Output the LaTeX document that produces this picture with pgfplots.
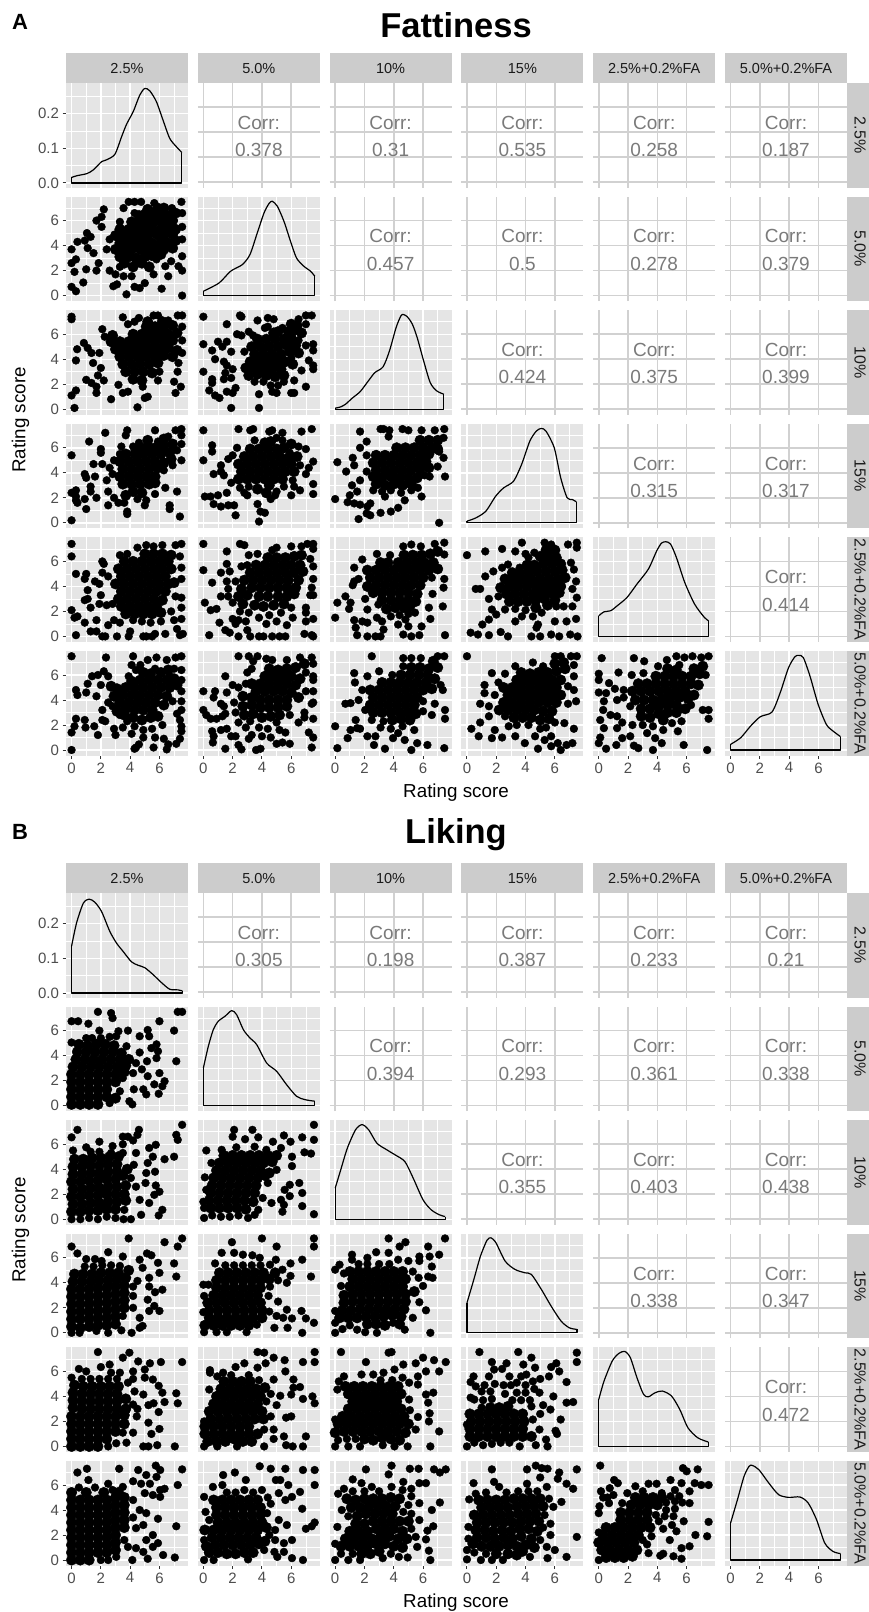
\documentclass[border=0pt]{standalone}
\usepackage{fontspec}
\setmainfont{Liberation Sans}
\usepackage{pgfplots}
\pgfplotsset{compat=1.18}
\definecolor{pg}{HTML}{E5E5E5}
\definecolor{sg}{HTML}{CCCCCC}
\definecolor{ug}{HTML}{D1D1D1}
\definecolor{tg}{HTML}{4D4D4D}
\definecolor{tk}{HTML}{333333}
\definecolor{cg}{HTML}{7A7A7A}
\definecolor{st}{HTML}{1A1A1A}
\newcommand{\fz}[1]{\fontsize{#1}{#1}\selectfont}
\pgfplotsset{
 panel/.style={width=122pt,height=104.5pt,scale only axis,xmin=-0.38,xmax=7.95,ymin=-0.44,ymax=7.92,
  xtick={0,2,4,6},ytick={0,2,4,6},axis line style={draw=none},tick pos=left,tick align=outside,
  major tick length=3.5pt,minor tick length=0pt,tick style={color=tk,line width=1pt},
  tick label style={font=\fz{15},text=tg},
  /pgf/number format/assume math mode=true,
  xticklabels={},yticklabels={},clip mode=individual},
 lower/.style={panel,minor xtick={1,3,5,7},minor ytick={1,3,5,7},grid=both,
  major grid style={white,line width=1.4pt},minor grid style={white,line width=0.7pt},
  axis background/.style={fill=pg}},
 upper/.style={panel,grid=major,major grid style={ug,line width=1.5pt},major tick length=0pt},
 col1/.style={yticklabels={0,2,4,6}},col2/.style={},col3/.style={},col4/.style={},col5/.style={},col6/.style={},
 row1/.style={},row2/.style={},row3/.style={},row4/.style={},row5/.style={},row6/.style={xticklabels={0,2,4,6}},
 dens/.style={black,line width=1.2pt,line join=round,no marks},
 pts/.style={only marks,mark=*,mark size=3.9pt,color=black,mark options={draw=none,fill=black}},
 ptc/.style={pts,mark size=5.3pt},
}
\newcommand{\tickst}[2]{\ifnum#2=1\relax\else\pgfplotsset{ytick style={draw=none}}\fi\ifnum#1=6\relax\else\pgfplotsset{xtick style={draw=none}}\fi}
\newcommand{\scat}[5]{\begingroup\tickst{#2}{#3}\pgfmathsetmacro\LL{66+131.8*(#3-1)}\pgfmathsetmacro\TT{#1+83+113.6*(#2-1)}%
 \begin{axis}[lower,col#3,row#2,at={(\LL pt,-\TT pt)},anchor=north west]
 \addplot[pts] coordinates {#4};
 \addplot[ptc] coordinates {#5};
 \end{axis}\endgroup}
\newcommand{\diag}[5]{\begingroup\tickst{#2}{#3}\pgfmathsetmacro\LL{66+131.8*(#3-1)}\pgfmathsetmacro\TT{#1+83+113.6*(#2-1)}%
 \begin{axis}[lower,col#3,row#2,at={(\LL pt,-\TT pt)},anchor=north west]
 \addplot[dens,smooth,tension=0.45] coordinates {#4};
 \addplot[dens] coordinates {#5};
 \end{axis}\endgroup}
\newcommand{\diagone}[3]{\begingroup\pgfplotsset{xtick style={draw=none}}\pgfmathsetmacro\TT{#1+83}%
 \begin{axis}[lower,at={(66pt,-\TT pt)},anchor=north west,ymin=-0.013,ymax=0.2886,ytick={0,0.1,0.2},minor ytick={0.05,0.15,0.25},yticklabels={0.0,0.1,0.2}]
 \addplot[dens,smooth,tension=0.45] coordinates {#2};
 \addplot[dens] coordinates {#3};
 \end{axis}\endgroup}
\newcommand{\corr}[4]{\begingroup\pgfplotsset{xtick style={draw=none},ytick style={draw=none}}\pgfmathsetmacro\LL{66+131.8*(#3-1)}\pgfmathsetmacro\TT{#1+83+113.6*(#2-1)}\pgfmathsetmacro\CC{\LL+61}\pgfmathsetmacro\BA{\TT+46.3}\pgfmathsetmacro\BB{\TT+73.7}%
 \begin{axis}[upper,at={(\LL pt,-\TT pt)},anchor=north west]\end{axis}
 \node[anchor=base,inner sep=0pt,font=\fz{19},text=cg] at (\CC pt,-\BA pt) {Corr:};
 \node[anchor=base,inner sep=0pt,font=\fz{19},text=cg] at (\CC pt,-\BB pt) {#4};\endgroup}
\newcommand{\strips}[1]{%
 \foreach \i/\t in {1/2.5\%,2/5.0\%,3/10\%,4/15\%,5/2.5\%+0.2\%FA,6/5.0\%+0.2\%FA}{%
  \pgfmathsetmacro\LL{66+131.8*(\i-1)}\pgfmathsetmacro\RR{\LL+122}\pgfmathsetmacro\CC{\LL+61}\pgfmathsetmacro\YA{#1+53}\pgfmathsetmacro\YB{#1+83}\pgfmathsetmacro\YC{#1+68.3}%
  \fill[sg] (\LL pt,-\YA pt) rectangle (\RR pt,-\YB pt);
  \node[font=\fz{14.5},text=st,inner sep=0pt] at (\CC pt,-\YC pt) {\t};
  \pgfmathsetmacro\TT{#1+83+113.6*(\i-1)}\pgfmathsetmacro\BB{\TT+104.5}\pgfmathsetmacro\MM{\TT+52.2}%
  \fill[sg] (847pt,-\TT pt) rectangle (869pt,-\BB pt);
  \node[font=\fz{16},text=st,inner sep=0pt,rotate=-90] at (860pt,-\MM pt) {\t};
 }}
\begin{document}
\begin{tikzpicture}[x=1pt,y=1pt]
\useasboundingbox (0,0) rectangle (869,-1612);
\node[font=\bfseries\fz{22},inner sep=0pt] at (20,-22) {A};
\node[font=\bfseries\fz{22},inner sep=0pt] at (20,-832) {B};
\node[font=\bfseries\fz{34.5},inner sep=0pt] at (456,-25) {Fattiness};
\node[font=\bfseries\fz{34.5},inner sep=0pt] at (456,-835) {Liking};
\node[font=\fz{18.8},inner sep=0pt] at (456,-793) {Rating score};
\node[font=\fz{18.8},inner sep=0pt] at (456,-1603) {Rating score};
\node[font=\fz{18.8},inner sep=0pt,rotate=90] at (20.5,-420) {Rating score};
\node[font=\fz{18.8},inner sep=0pt,rotate=90] at (20.5,-1230) {Rating score};
\strips{0}\strips{810}
\diagone{0}{(0,.016)(.36,.021)(1.04,.027)(1.49,.038)(2.06,.062)(2.40,.067)(2.96,.083)(3.42,.134)(3.76,.170)(4.21,.206)(4.66,.254)(5,.273)(5.34,.266)(5.79,.235)(6.24,.182)(6.7,.129)(7.15,.105)(7.53,.088)}{(0,.016)(0,0)(7.53,0)(7.53,.088)}
\diag{0}{2}{2}{(0,.35)(1.07,1.01)(1.86,1.95)(2.66,2.48)(3.18,3.28)(3.68,5.01)(4.14,6.61)(4.48,7.36)(4.7,7.55)(5.05,7.15)(5.5,5.95)(5.95,4.35)(6.36,3.01)(6.86,2.35)(7.32,1.95)(7.61,1.55)}{(0,.35)(0,0)(7.61,0)(7.61,1.55)}
\diag{0}{3}{3}{(0,.08)(.38,.19)(.71,.4)(1.16,.88)(1.71,1.41)(2.27,2.27)(2.71,2.93)(3.27,3.39)(3.71,4.67)(4.16,6.53)(4.49,7.47)(4.67,7.57)(4.93,7.39)(5.27,6.8)(5.6,5.73)(6.04,3.87)(6.49,2.13)(6.93,1.47)(7.42,1.2)}{(0,.08)(0,0)(7.42,0)(7.42,1.2)}
\diag{0}{4}{4}{(0,.13)(.62,.4)(1.29,.93)(1.96,2.13)(2.51,2.8)(3.18,3.33)(3.73,4.67)(4.29,6.53)(4.73,7.33)(5.07,7.55)(5.4,7.33)(5.96,6)(6.4,3.6)(6.84,2)(7.18,1.87)(7.47,1.68)}{(0,.13)(0,0)(7.47,0)(7.47,1.68)}
\diag{0}{5}{5}{(0,1.65)(.36,1.97)(.81,2.05)(1.26,2.45)(1.93,3.12)(2.61,4.19)(3.39,5.39)(3.96,6.85)(4.29,7.47)(4.58,7.57)(4.9,7.39)(5.3,6.32)(5.87,4.32)(6.54,2.59)(7.21,1.52)(7.5,1.25)}{(0,1.65)(0,0)(7.5,0)(7.5,1.25)}
\diag{0}{6}{6}{(0,.45)(.7,.99)(1.37,1.92)(2.04,2.67)(2.83,3.04)(3.39,4.59)(3.96,6.59)(4.4,7.47)(4.67,7.57)(4.97,7.39)(5.42,5.92)(5.98,3.65)(6.54,2.05)(6.99,1.52)(7.51,1.07)}{(0,.45)(0,0)(7.51,0)(7.51,1.07)}
\diagone{810}{(0,.135)(.34,.202)(.8,.259)(1.2,.271)(1.59,.262)(2.05,.235)(2.61,.178)(3.07,.144)(3.52,.12)(4.09,.09)(4.55,.08)(5,.073)(5.57,.053)(6.14,.03)(6.7,.011)(7.27,.009)(7.57,.006)}{(0,.135)(0,0)(7.57,0)(7.57,.006)}
\diag{810}{2}{2}{(0,3.01)(.34,4.75)(.68,6.08)(1.02,6.75)(1.48,7.15)(1.93,7.6)(2.27,7.28)(2.73,6.08)(3.18,5.41)(3.64,4.88)(4.32,3.41)(5,2.75)(5.68,1.68)(6.36,.75)(6.93,.48)(7.61,.35)}{(0,3.01)(0,0)(7.61,0)(7.61,.35)}
\diag{810}{3}{3}{(0,2.48)(.38,3.95)(.83,5.68)(1.39,7.15)(1.84,7.57)(2.29,7.15)(2.85,6.08)(3.53,5.55)(4.09,5.15)(4.76,4.61)(5.33,3.28)(6,1.55)(6.56,.75)(7.12,.35)(7.51,.21)}{(0,2.48)(0,0)(7.51,0)(7.51,.21)}
\diag{810}{4}{4}{(0,2.4)(.47,4.27)(.92,6.13)(1.37,7.41)(1.64,7.6)(1.98,7.2)(2.61,5.73)(3.28,5.07)(3.96,4.8)(4.4,4.67)(5.08,3.47)(5.75,2.13)(6.43,.93)(6.99,.4)(7.51,.27)}{(0,2.4)(0,0)(7.51,0)(7.51,.27)}
\diag{810}{5}{5}{(0,3.76)(.36,5.23)(.92,6.83)(1.37,7.44)(1.78,7.6)(2.16,7.09)(2.61,5.49)(3.06,4.16)(3.39,3.97)(3.84,4.29)(4.34,4.43)(4.97,4.03)(5.53,2.96)(6.09,1.49)(6.76,.69)(7.48,.35)}{(0,3.76)(0,0)(7.48,0)(7.48,.35)}
\diag{810}{6}{6}{(0,2.96)(.47,4.83)(.92,6.69)(1.26,7.49)(1.48,7.57)(1.93,7.23)(2.61,6.16)(3.28,5.23)(3.96,5.01)(4.74,5.04)(5.3,4.56)(5.87,3.23)(6.43,1.36)(6.99,.69)(7.51,.51)}{(0,2.96)(0,0)(7.51,0)(7.51,.51)}
\corr{0}{1}{2}{0.378}\corr{0}{1}{3}{0.31}\corr{0}{1}{4}{0.535}\corr{0}{1}{5}{0.258}\corr{0}{1}{6}{0.187}
\corr{0}{2}{3}{0.457}\corr{0}{2}{4}{0.5}\corr{0}{2}{5}{0.278}\corr{0}{2}{6}{0.379}
\corr{0}{3}{4}{0.424}\corr{0}{3}{5}{0.375}\corr{0}{3}{6}{0.399}
\corr{0}{4}{5}{0.315}\corr{0}{4}{6}{0.317}
\corr{0}{5}{6}{0.414}
\corr{810}{1}{2}{0.305}\corr{810}{1}{3}{0.198}\corr{810}{1}{4}{0.387}\corr{810}{1}{5}{0.233}\corr{810}{1}{6}{0.21}
\corr{810}{2}{3}{0.394}\corr{810}{2}{4}{0.293}\corr{810}{2}{5}{0.361}\corr{810}{2}{6}{0.338}
\corr{810}{3}{4}{0.355}\corr{810}{3}{5}{0.403}\corr{810}{3}{6}{0.438}
\corr{810}{4}{5}{0.338}\corr{810}{4}{6}{0.347}
\corr{810}{5}{6}{0.472}
% ---------- A: Fattiness
\scat{0}{2}{1}{(0,3.7)(.4,4.3)(0,2.6)(.3,2.9)(.2,1.9)(1,2.1)(.8,1.05)(0,.7)(.3,.35)(1.7,2)(1.85,2.6)(1.5,3.4)(1.1,3.8)(1.05,5)(.9,4.4)(1.3,4.7)(1.7,6)(2.2,6.9)(2.05,6.3)(2.05,5.5)(2.6,2)(2.85,.75)(3.1,.9)(3.75,.1)(4.3,.7)(4.65,.6)(5,1)(6.15,.55)(7.55,0)(7.55,2)(7.3,2.35)(6.8,2.75)(7.55,3.15)(7.55,4.5)(7.55,5.5)(7.55,6.6)(7.5,7.5)(3.55,7)(3.9,7.5)(4.3,7.5)(4.75,7.5)(5.65,7.4)(5.9,7.1)(6.85,7)(4.3,6.6)(3.3,5.9)(3.3,2.3)(3,1.7)(3.55,1.55)(4.1,1.55)(5.6,1.7)(6.6,1.55)(5.8,2.9)(6.4,2.35)(2.6,4.5)(2.4,3.7)}{(3.6,2.6)(4.2,2.3)(4.8,2.6)(5.3,2.3)(3.3,3.1)(3.9,3.1)(4.4,3)(5,3.1)(5.5,3.2)(6.1,3.3)(3,3.7)(3.6,3.7)(4.1,3.7)(4.7,3.7)(5.2,3.7)(5.8,3.8)(6.3,3.7)(6.9,3.8)(3.3,4.2)(3.9,4.2)(4.4,4.3)(5,4.2)(5.5,4.2)(6.1,4.3)(6.6,4.2)(7.1,4.4)(3,4.8)(3.6,4.8)(4.1,4.8)(4.7,4.8)(5.2,4.8)(5.8,4.9)(6.3,4.8)(6.9,4.9)(3.3,5.3)(3.9,5.3)(4.4,5.4)(5,5.3)(5.5,5.4)(6.1,5.3)(6.6,5.4)(7.1,5.3)(4.1,5.9)(4.7,5.9)(5.2,5.9)(5.8,6)(6.3,5.9)(6.9,6)(4.6,6.4)(5,6.5)(5.5,6.4)(6.1,6.5)(6.6,6.4)(7.1,6.6)(5.2,6.9)(5.8,6.8)(6.3,7)}
\scat{0}{3}{1}{(0,7.4)(0,7.2)(.38,4.8)(.3,3.9)(.84,5.3)(1.1,4.9)(1.36,4.5)(1.9,4.5)(2.1,6.4)(2.26,5.8)(1.47,3.7)(2,3.3)(1.8,2.7)(2.2,2.3)(1,2.35)(1.36,2.1)(1.7,1.8)(1.7,1.3)(.3,1.5)(0,1.1)(.2,.1)(2.7,.8)(3.2,1.95)(3.5,1.3)(3.85,1.4)(4.5,.15)(4.86,1.8)(5.2,1)(5,.9)(5.9,2.3)(6,3)(7.1,1.3)(7,2.2)(7.46,1.8)(7.24,3)(7.3,3.7)(3.5,7.35)(3.85,6.8)(4.6,7.3)(4.3,7)(5.6,7.5)(5.9,7.5)(6.6,7.1)(7.25,7.5)(7.55,7.5)(7.55,6.6)(7.55,5.5)(7.55,4.5)}{(4.2,2.4)(4.8,2.3)(3.7,3)(4.3,3)(4.9,3)(5.5,2.9)(3.5,3.6)(4.1,3.6)(4.7,3.6)(5.3,3.6)(5.9,3.7)(3.3,4.2)(3.9,4.2)(4.5,4.2)(5.1,4.2)(5.7,4.2)(6.3,4.3)(6.9,4.2)(3,4.8)(3.6,4.8)(4.2,4.8)(4.8,4.8)(5.4,4.8)(6,4.8)(6.6,4.9)(7.2,4.7)(2.7,5.4)(3.3,5.4)(3.9,5.4)(4.5,5.4)(5.1,5.4)(5.7,5.4)(6.3,5.4)(6.9,5.5)(2.8,5.9)(4.2,6)(4.8,6)(5.4,6)(6,6)(6.6,6)(7.2,6.1)(5.1,6.6)(5.7,6.6)(6.3,6.6)(6.9,6.7)(5.2,7)(6.2,7)}
\scat{0}{3}{2}{(0,7.4)(2.5,7.5)(2.6,7.4)(1.6,6.8)(3.7,7.1)(4.4,7.3)(4.8,7.2)(2.3,6)(2.6,5.9)(1,5.4)(1.6,5.4)(0,5.2)(.6,4.7)(1.3,5)(.8,4)(1.4,3.8)(1.9,4.6)(1.6,3.5)(2,3.2)(0,3)(.6,2.4)(.6,2.1)(1.4,2.4)(1.5,2.9)(1.9,2.5)(.4,1.5)(.8,1.1)(1.1,.9)(1.6,1.4)(2,1.3)(2.2,1.7)(1.9,.1)(3.8,.1)(3.8,1.2)(4.6,1.9)(4.7,1.4)(5,1.3)(5.5,2.2)(5.1,1.9)(6,1.3)(6.2,1.3)(6.2,2.3)(7,1.8)(6.7,3.1)(7.2,3.9)(7.5,3.5)(7.5,3.2)(7.5,5.2)(7.5,4.7)(7,5.1)(6,4.1)(6.5,5.5)(7,6.8)(7.4,7.5)(7,7.5)(6.5,7.2)(5.4,6.5)(4.2,6.5)(4.4,6.6)(3.1,6.2)(3.4,5.9)(2.8,4.6)(3.2,3.2)(4.1,2.2)(3.5,2.2)}{(3.1,2.7)(3.7,2.8)(4.3,2.7)(4.9,2.6)(5.5,2.7)(2.9,3.3)(3.6,3.3)(4.1,3.3)(4.7,3.2)(5.3,3.2)(3.2,3.8)(3.8,3.9)(4.4,3.8)(5,3.8)(5.6,3.8)(6.1,3.6)(3.5,4.4)(4.1,4.4)(4.7,4.4)(5.3,4.4)(5.9,4.6)(6.5,4.5)(3.3,5)(3.9,5)(4.5,5)(5.1,5)(5.7,5.1)(6.3,5.1)(3.7,5.6)(4.3,5.6)(4.9,5.6)(5.5,5.6)(6,5.7)(4.8,6.1)(5.1,6.2)(5.8,6.2)(6.2,6.3)(6.7,6.1)(6,6.8)(6.4,6.7)}
\scat{0}{4}{1}{(0,.2)(.3,2.1)(0,5.4)(1.2,6.5)(2.3,7.2)(3.8,7.4)(3.7,7)(2,5.9)(2,5.6)(1.5,4.7)(.9,3.9)(1,3.6)(1.6,3.7)(2.1,4.7)(2.6,4.4)(2.8,3.9)(2.4,3.4)(0,2.4)(.3,2.6)(.4,1.6)(.3,1.8)(.9,1.9)(1,1.1)(1.7,2)(1.3,2.5)(1.3,2.9)(2.5,1.4)(3.2,1.6)(3.8,.9)(3.8,.7)(5,1.4)(5.1,1.8)(5.7,2.3)(6.4,2.8)(6.7,1.4)(6.7,1.1)(7.4,.5)(7.2,2.5)(6.3,4.2)(6.9,4.6)(7.2,5.8)(7.5,5)(7.5,6.3)(7.5,7)(7.5,7.5)(7.1,7.4)(6.6,6.9)(5.7,7.4)(5.9,6.5)(4.6,6.4)(4.2,6.1)(3.4,6.1)(3.3,5.5)(2.9,5)(2.5,2.5)(2.9,2)(3.6,1.6)(4.5,1.9)}{(3.7,2.2)(4.2,2.5)(4.8,2.4)(3.5,3.1)(4.1,3.1)(4.7,3.1)(5.3,3.1)(5.7,3.2)(3.3,3.7)(3.9,3.7)(4.5,3.7)(5.1,3.7)(5.7,3.7)(3.5,4.3)(4.1,4.3)(4.7,4.3)(5.3,4.3)(5.9,4.4)(3.3,4.9)(3.9,4.9)(4.5,4.9)(5.1,4.9)(5.7,4.9)(6.3,4.8)(6.8,5.1)(3.7,5.5)(4.3,5.5)(4.9,5.5)(5.5,5.5)(6.1,5.5)(6.7,5.6)(4.7,6)(5.2,6.1)(5.7,6)(6.3,6.1)(6.9,6.3)(5.2,6.6)(6.3,6.7)}
\scat{0}{4}{2}{(0,7.4)(2.4,7.5)(3.2,7.4)(3.4,7.5)(4.5,7.3)(4.7,7.4)(5.4,7.2)(6.7,7.3)(7.4,7.5)(.6,6.2)(.6,5.7)(0,5)(1.2,4.6)(1.2,4.1)(.7,3.9)(1.4,3.8)(2,5.4)(1.7,5.1)(2.3,6)(3.5,6.6)(5,6.8)(5.4,6.6)(.1,2.1)(.5,2.1)(.7,1.5)(1,2.2)(1.2,1.3)(1.7,1.4)(2.1,1.4)(2.2,.6)(1.6,2.4)(1.9,3.2)(2.8,2.4)(3,2.2)(3.7,1.5)(3.9,.9)(4.2,.8)(3.8,.1)(4.6,1.9)(4.9,2.2)(6,2.2)(6.1,3.4)(6.2,2.9)(7.5,3.1)(7.5,2.3)(6.6,2.6)(7,3.9)(7.2,4.4)(6.6,4.6)(7.5,4.9)(7,5.9)(6.5,6.1)(5.9,5.6)(5.5,2.9)(5,2.5)(2.5,2.8)(3.1,2.9)}{(3.7,2.7)(4.3,2.4)(4.5,3)(2.4,3.5)(3,3.5)(3.6,3.5)(4.2,3.5)(4.8,3.5)(5.4,3.5)(2.6,4.1)(3.2,4.1)(3.8,4.1)(4.4,4.1)(5,4.1)(5.6,4.1)(6.2,4.1)(2.4,4.7)(3,4.7)(3.6,4.7)(4.2,4.7)(4.8,4.7)(5.4,4.7)(6,4.7)(2.8,5.3)(3.4,5.3)(4,5.3)(4.6,5.3)(5.2,5.3)(5.8,5.2)(6.4,5.3)(3.2,5.9)(3.8,5.9)(4.4,5.9)(5,5.9)(5.5,6)(4.2,6.4)(4.6,6.5)(6,6.3)}
\scat{0}{4}{3}{(0,1.9)(.15,4.85)(.75,4.1)(1.3,4.6)(1.2,5.2)(1.7,7.3)(3.1,7.5)(3.3,7.5)(3.7,7.4)(3.65,6.9)(4.6,7.5)(5,7.4)(5.9,7.4)(6.8,7.4)(7.45,7.5)(2.15,6.5)(1.7,6)(2.15,5.4)(2.15,4.1)(1.7,3.4)(1.15,3)(1.5,2.5)(1,2.2)(.85,1.65)(1.3,1.55)(1.7,1.45)(2.2,1.3)(2.4,.6)(1.6,.3)(2.15,.75)(3.1,.8)(3.8,.9)(4.3,1.2)(2.4,1.55)(3.4,2.1)(4.75,1.8)(5.9,2.1)(5.65,2.8)(6.45,3.7)(7,4.5)(7.5,3.7)(7.4,5.2)(7.1,0)(7.4,6.8)(7.1,5.7)(6.1,3.8)(5.2,2.6)(2.6,2.6)(3.2,2.5)(3.8,2.6)(4.5,2.4)}{(2.8,3.1)(3.4,3)(4,3.1)(4.6,3)(5.2,3.1)(2.6,3.7)(3.2,3.6)(3.8,3.7)(4.4,3.6)(5,3.6)(5.6,3.6)(2.8,4.2)(3.4,4.2)(4,4.2)(4.6,4.2)(5.2,4.2)(5.8,4.3)(6.4,4.4)(2.6,4.8)(3.2,4.8)(3.8,4.8)(4.4,4.8)(5,4.8)(5.6,4.8)(6.2,4.9)(2.8,5.4)(3.4,5.4)(4,5.4)(4.6,5.4)(5.2,5.4)(5.8,5.4)(6.4,5.5)(7,5.9)(4.2,6)(4.8,6)(5.4,6)(6,6)(6.6,6)(5.8,6.6)(6.4,6.6)(7,6.6)}
\scat{0}{5}{1}{(0,7.4)(0,6.4)(.3,5)(1,5)(.9,4.6)(1.6,4.4)(1.9,4.2)(.9,2.9)(1.1,3)(1.1,3.7)(1.3,2.3)(1.9,2.6)(2,3.3)(2.1,6)(2.2,5.8)(2.1,5.1)(2.5,4.8)(0,2.1)(.2,1.5)(.4,1.6)(.9,1.1)(1.7,1.3)(.3,.1)(1.3,.4)(1.7,.4)(2.1,0)(2.3,0)(3.1,0)(2.5,.9)(2.9,1.3)(3.3,1.1)(3.9,0)(4,.4)(4.9,0)(5.1,0)(5.5,0)(5.7,.2)(6.4,.2)(7.2,.6)(7.4,.1)(7.6,.2)(7.5,1.4)(7,1.3)(6.8,2)(7.5,2.3)(7.5,3.1)(7.1,3.2)(7.5,4.6)(7.5,5.5)(7.4,6.4)(7.5,7.4)(7.1,7.3)(6.2,7.3)(5.6,7.2)(5.1,7.3)(4.5,7.1)(3.3,6.5)(3.8,6.6)(2.4,2.5)(2.8,2.6)(4.2,1.3)(4.8,1.2)(5.4,1.1)(6.1,1.2)}{(3.7,1.8)(4.3,1.8)(4.9,1.8)(5.5,1.8)(6.1,1.9)(3.4,2.4)(4,2.4)(4.6,2.4)(5.2,2.4)(5.8,2.4)(3.2,3)(3.8,3)(4.4,3)(5,3)(5.6,3)(6.2,2.9)(3.4,3.6)(4,3.6)(4.6,3.6)(5.2,3.6)(5.8,3.6)(6.4,3.6)(3,4.2)(3.6,4.2)(4.2,4.2)(4.8,4.2)(5.4,4.2)(6,4.2)(6.6,4.2)(7,4.3)(3.4,4.8)(4,4.8)(4.6,4.8)(5.2,4.8)(5.8,4.8)(6.4,4.8)(3.2,5.4)(3.8,5.4)(4.4,5.4)(5,5.4)(5.6,5.4)(6.2,5.4)(6.8,5.4)(3.6,6)(4.2,6)(4.8,6)(5.4,6)(6,6)(6.6,6)(5,6.6)(5.6,6.6)(6.2,6.6)(6.8,6.5)}
\scat{0}{5}{2}{(0,7.4)(0,5.3)(.6,4.3)(.1,2.7)(.5,2.1)(.9,2.2)(1.1,1.1)(1.5,.5)(.4,.1)(1.8,.3)(2.4,0)(3.2,0)(3.8,0)(4.1,0)(4.7,0)(5.2,0)(5.6,0)(6.9,.2)(7.4,.1)(7.5,0)(7,1.2)(7,1.9)(7,2.3)(7.5,1.4)(7.5,3.3)(7.3,3.3)(7.4,3.9)(7.5,4.6)(7.5,5.6)(7.3,6.2)(7.5,7)(7.5,7.4)(7.1,7.4)(6.7,7.2)(6,7.2)(5,7.1)(4.7,6.9)(3.7,6.6)(3.1,6.5)(2.5,7.4)(2.8,7.3)(1.6,6.8)(1.6,5.8)(1.8,5.2)(1.2,5.1)(1.6,4.4)(2.2,4.4)(1.7,3.8)(3,5.7)(2.6,5.6)(1.2,3.2)(1.7,3.2)(2,2.7)(2,1.4)(2.2,1)(2.4,1.3)(2.9,1.2)(3,.5)(4.3,1)(5,1.2)(5.3,1.9)(6,2.3)(6.1,1.5)(5.7,.9)(2.5,2)(3.1,1.9)(3.8,1.5)(4.5,1.7)}{(2.7,2.6)(3.5,2.5)(4.1,2.4)(4.8,2.5)(5.5,2.6)(2.4,3.2)(3,3.3)(3.8,3.2)(4.4,3.2)(5.1,3.2)(5.7,3.2)(6.2,3.4)(2.6,3.8)(3.3,3.9)(3.9,3.9)(4.5,3.9)(5.1,3.9)(5.7,3.9)(6.3,3.9)(2.8,4.5)(3.4,4.5)(4,4.5)(4.6,4.5)(5.2,4.5)(5.8,4.5)(6.5,4.5)(3.2,5.1)(3.8,5.1)(4.4,5.1)(5,5.1)(5.6,5.1)(6.2,5.1)(6.8,5.2)(3.6,5.7)(4.2,5.7)(4.8,5.7)(5.4,5.7)(6,5.7)(6.6,5.7)(4.4,6.3)(5,6.3)(5.6,6.3)(6.2,6.4)(6.7,6.5)}
\scat{0}{5}{3}{(0,1.5)(.15,2.7)(.7,3.2)(.95,2.2)(1.05,2.7)(1.3,1.3)(1.4,.7)(1.5,.1)(1.85,1.2)(2.2,1.1)(2.2,0)(2.75,0)(3.1,0)(3.3,.55)(2.2,2.15)(2.85,1.5)(3.2,1.2)(1.3,4.4)(1.2,4.1)(1.3,5.5)(1.85,6.15)(2.85,6.6)(3.75,6.5)(4.65,7.2)(5.2,7.35)(5.85,7.2)(6.8,7.4)(7.45,7.5)(7.45,6.55)(7.45,4.6)(7.4,3.9)(6.65,3.4)(6.6,4.7)(7.35,2.4)(6.4,2.3)(6.5,1.4)(7.5,.1)(5.75,.1)(5.2,0)(4.65,.15)(5,.8)(5.9,.8)(5.45,1.9)(4.3,.95)(1.6,4.6)(2.05,3)(2.95,2.55)(4.8,1.35)(3.8,1.6)(4.4,1.7)(5,1.8)}{(3.5,2.2)(4.1,2.3)(4.7,2.3)(5.1,2.4)(3.2,2.9)(3.8,2.9)(4.4,2.9)(5,2.9)(5.5,2.8)(2.6,3.5)(3.2,3.5)(3.8,3.5)(4.4,3.5)(5,3.5)(5.6,3.4)(2.2,4)(2.8,4.1)(3.4,4.1)(4,4.1)(4.6,4.1)(5.2,4.1)(5.8,4.1)(2.4,4.7)(3,4.7)(3.6,4.7)(4.2,4.7)(4.8,4.7)(5.4,4.7)(6,4.7)(2.2,5.3)(2.8,5.3)(3.4,5.3)(4,5.3)(4.6,5.3)(5.2,5.3)(5.8,5.3)(6.4,5.3)(7,5.4)(3.1,5.9)(3.6,5.9)(4.3,5.9)(4.9,5.9)(5.5,5.9)(6.1,5.9)(6.7,5.9)(4.7,6.5)(5.3,6.5)(5.9,6.5)(6.5,6.6)(7,6.8)}
\scat{0}{5}{4}{(0,6.5)(1.25,6.8)(2.4,7)(3.3,6.8)(3.75,7.5)(4,6.6)(4.2,6.3)(5.3,7.5)(5.75,7.35)(6.9,7.35)(7.5,7.5)(7.5,7.1)(7.1,5.9)(7.3,5.35)(7.45,4.4)(7.2,3.8)(7.5,3.1)(7.2,2.4)(6.6,2.4)(7.45,1.4)(6.8,1.2)(6,1.2)(7.55,0)(7.05,.15)(6.3,0)(5.75,.15)(5,0)(4.4,0)(2.8,0)(2.3,.35)(1.5,.1)(.75,.15)(.25,.3)(1.05,.95)(1.5,1.35)(2,1.75)(1.7,2.15)(1.5,3)(.6,3.8)(.9,3.8)(1.25,4.8)(1.8,5.2)(2.4,5.5)(2.8,5.75)(3.6,5.5)(4.75,.7)(3.75,1.6)(3.3,1.2)(2.6,2.15)(4.85,.95)(5.1,1.9)(6.1,2.4)(2.15,3.2)(4.6,6.7)(3.3,2.2)(4,2.1)(4.5,1.6)}{(4.7,2.3)(5.5,2.5)(2.9,2.8)(3.5,2.8)(4.1,2.8)(4.7,2.9)(5.3,3)(6,2.9)(2.7,3.4)(3.3,3.4)(3.9,3.4)(4.5,3.4)(5.1,3.5)(5.7,3.5)(6.3,3.5)(2.3,3.9)(2.9,4)(3.5,4)(4.1,4)(4.7,4)(5.3,4)(5.9,4)(6.4,4)(2.6,4.6)(3.2,4.6)(3.8,4.6)(4.4,4.6)(5,4.6)(5.6,4.6)(6.2,4.6)(6.7,4.7)(3.1,5.1)(3.6,5.1)(4.2,5.2)(4.8,5.2)(5.4,5.2)(6,5.2)(6.5,5.3)(4.1,5.7)(4.6,5.7)(5.2,5.8)(5.8,5.8)(6.4,5.8)(5,6.4)(5.5,6.4)(6.1,6.3)(5.4,6.9)(6,6.9)}
\scat{0}{6}{1}{(0,0)(0,7.5)(2.35,7.4)(.3,2.5)(.2,1.9)(0,1.4)(.9,2.4)(.95,1.8)(1.55,1.9)(1.8,1.2)(2.1,2.4)(2.3,2.3)(.3,4.8)(.4,4.4)(1,4.6)(1.1,5.3)(1.4,5.9)(1.8,6)(2.2,6.3)(2.5,5.9)(1.7,4.3)(2,5.2)(2.5,3.8)(2.1,3.2)(2.8,3.5)(2.9,1.7)(3,1.2)(3.3,2.8)(3.8,2.3)(4.1,1.3)(4.3,.1)(4.4,.2)(4.6,.45)(4.9,1)(5.6,.2)(5.7,1)(6.5,.05)(6.3,.9)(6.6,.45)(7.15,.5)(7.4,.9)(7.5,1.5)(7.5,1.9)(7.4,2.4)(7.2,2.9)(7.5,3.2)(7.5,3.9)(6.9,3.9)(7.5,4.7)(7.5,5.6)(7.5,6.4)(7.5,7.5)(7.1,7.4)(6.5,7.2)(5.8,7.4)(5.2,7.2)(4.2,7.5)(4.1,6.8)(4.7,6.8)(5.7,6.5)(4.4,6.4)(3.9,5.9)(7,6.5)(6.7,5.9)(3.5,1.8)(4.3,1.9)(4.9,1.6)(5.5,1.7)(6.2,2)}{(3.6,2.8)(4.2,2.6)(4.8,2.4)(5.4,2.6)(5.9,2.7)(3.1,3.1)(3.7,3.3)(4.3,3.2)(4.9,3.2)(5.5,3.2)(3.3,3.8)(3.9,3.8)(4.5,3.8)(5.1,3.8)(5.7,3.8)(6.3,3.6)(2.9,4.3)(3.5,4.4)(4.1,4.4)(4.7,4.4)(5.3,4.4)(5.9,4.4)(6.5,4.3)(3.1,4.9)(3.7,5)(4.3,5)(4.9,5)(5.5,5)(6.1,5)(6.7,5)(7.2,5.2)(2.7,5.1)(4.1,5.5)(4.7,5.6)(5.3,5.6)(5.9,5.6)(6.5,5.6)(7,5.7)(4.9,6.2)(5.4,6.1)(6.1,6.2)(6.6,6.4)}
\scat{0}{6}{2}{(0,4.7)(.7,4.2)(.8,4.7)(0,3.2)(.2,2.8)(.5,2.5)(.9,2.5)(1.3,2.7)(.6,1.5)(.7,1.1)(.65,.6)(1.2,1.6)(1.6,1.7)(1.9,1.1)(2.2,1.1)(1.5,.1)(2.4,.4)(2.6,.05)(3.6,0)(3.9,.1)(3.1,.9)(3.3,1.2)(2.9,1.8)(1.4,3.5)(1.5,2.9)(1.6,4.6)(1.2,3.7)(1.5,5.9)(2,5.2)(2.4,5)(2.9,5.3)(2.4,7.5)(3.1,7.5)(3.7,7.5)(3.4,7.1)(3.3,6.5)(3,6.2)(4.3,7.3)(4.7,7.2)(5.7,7.2)(6.6,7.4)(7.4,7.4)(7.5,6.9)(7,6.2)(7.5,5.9)(7.5,5.6)(7,4.7)(7.5,4.7)(7.5,3.8)(7.4,3.7)(6.9,3)(6.9,2.6)(7.5,2.5)(6.5,2.2)(7.2,1.4)(7.5,1)(7.4,.2)(5,.5)(5.4,.6)(5.9,.5)(4.6,1)(5.2,1.6)(5.6,1.4)(5.9,2.8)(4,1.1)(2.4,2.2)(3.2,2.3)(3.8,1.8)(4.4,1.7)(5,2.2)(2.2,3)(2.1,3.8)}{(2.8,2.8)(3.4,2.9)(4,2.6)(4.6,2.7)(5.2,2.8)(2.7,3.5)(3.3,3.6)(3.9,3.4)(4.5,3.4)(5.1,3.4)(5.7,3.5)(2.7,4.3)(3.3,4.2)(3.9,4)(4.5,4)(5.1,4)(5.7,4)(3.6,4.7)(4.2,4.7)(4.8,4.7)(5.4,4.7)(6,4.6)(6.5,4.2)(3.3,5.3)(3.9,5.3)(4.5,5.3)(5.1,5.3)(5.7,5.3)(6.3,5.2)(4.2,5.9)(4.8,5.9)(5.4,5.9)(6,5.9)(6.6,5.7)(4.5,6.5)(5.1,6.4)(5.7,6.5)(6.3,6.6)(6.9,6.9)}
\scat{0}{6}{3}{(.15,.15)(0,1.9)(.85,.95)(1.05,1.6)(1.5,1.75)(1.7,1.7)(.7,3.7)(1.05,3.75)(1.6,4)(1.4,2.4)(2.05,3.2)(1.35,5.4)(1.3,6.15)(2.5,7.5)(2.2,5.9)(1.85,4.8)(2.2,1.1)(2.65,.4)(3.4,.1)(3.95,.95)(5.2,0)(5.6,.55)(6.3,.4)(7.45,.15)(7.5,2.5)(7.5,3.2)(6.6,2.8)(6.8,3.7)(6,3.1)(6,3.9)(7.35,4.8)(7.2,5.2)(7.45,7.5)(7,7.5)(5.85,7.35)(5.2,7.35)(4.65,7.35)(4.65,6.7)(3,6.3)(3.9,6)(5.4,1.6)(4.75,.8)(2.75,1.1)(3.3,2.3)(4.3,1.35)(3.8,1.7)(4.6,1.9)(2.5,2.4)(3.1,1.8)}{(3.9,2.4)(4.5,2.5)(5.1,2.4)(2.6,3)(3.2,3)(3.8,3)(4.4,3)(5,3)(5.5,2.9)(2.4,3.6)(3,3.6)(3.6,3.6)(4.2,3.6)(4.8,3.6)(5.4,3.6)(2.6,4.2)(3.2,4.2)(3.8,4.2)(4.4,4.2)(5,4.2)(5.6,4.2)(2.4,4.8)(3,4.8)(3.6,4.8)(4.2,4.8)(4.8,4.8)(5.4,4.8)(6,4.8)(6.6,4.9)(3.2,5.4)(3.8,5.4)(4.4,5.4)(5,5.4)(5.6,5.4)(6.2,5.4)(6.8,5.7)(4.5,6)(5.1,6)(5.7,6)(6.3,6)(5.2,6.6)(5.8,6.6)(6.4,6.5)(7,6.6)(6.7,7.1)}
\scat{0}{6}{4}{(0,7.5)(.8,1.1)(.3,1.7)(.9,2.2)(.9,3.7)(1.2,4.55)(1.2,5.2)(1.7,6.15)(2.6,6.1)(3.3,6.7)(4.5,7)(5.2,6.7)(6,7.5)(6.4,7.5)(7.1,7.5)(7.5,7.5)(7.3,6.8)(7.3,5.9)(7.3,4.8)(7.45,3.9)(6.9,3.7)(7.3,1.7)(7.2,.55)(6.8,.4)(6.2,.55)(6.4,0)(5.75,.3)(4.85,.1)(5.3,.8)(1.7,.95)(1.9,1.6)(2.4,1)(1.5,2.7)(1.5,3.5)(1.9,4.4)(4.65,1.1)(4.2,2)(2.85,1.9)(3.3,1.1)(5.75,1.1)(6.65,2.15)(3.95,.55)(2.15,5.4)(6.9,5.1)(2.6,2.7)(3.4,2)(5,1.7)(5.4,1.8)(6,2.2)}{(3.2,2.6)(3.8,2.6)(4.4,2.6)(5,2.4)(5.6,2.5)(2.2,3.2)(2.8,3.2)(3.4,3.2)(4,3.2)(4.6,3.2)(5.2,3.1)(5.8,3.1)(2.5,3.8)(3.1,3.8)(3.7,3.8)(4.3,3.8)(4.9,3.8)(5.5,3.8)(6.1,3.8)(2.8,4.4)(3.4,4.4)(4,4.4)(4.6,4.4)(5.2,4.4)(5.8,4.4)(6.4,4.4)(2.5,5)(3.1,5)(3.7,5)(4.3,5)(4.9,5)(5.5,5)(6.1,5)(3.4,5.6)(4,5.6)(4.6,5.6)(5.2,5.6)(5.8,5.6)(6.4,5.6)(3.7,6.2)(4.3,6.1)(4.9,6.2)(5.5,6.2)(6.1,6.3)(6.7,6.5)(6,6.9)(6.6,7)}
\scat{0}{6}{5}{(.2,7.35)(2.4,7.35)(3.1,7.1)(0,6.1)(0,5.6)(1.35,6.2)(2.25,6)(3.05,6.15)(.7,5.35)(0,4.6)(.5,4.55)(.35,3.9)(.3,3.2)(.8,2.8)(.1,2.4)(.35,1.75)(.1,1)(0,.55)(.5,.1)(1.2,.4)(2.4,.35)(2.7,.15)(3.7,0)(4.3,.55)(5.8,.4)(7.4,0)(5.4,1.5)(5.65,2.3)(7.1,3.2)(7.5,3.2)(7.5,2.5)(7.3,6)(7.5,7.5)(7,7.4)(6.4,7.5)(5.85,7.4)(5.3,7.5)(4.65,7.2)(4.05,6.7)(5.5,6.8)(1.25,1.75)(1.6,.95)(2.15,1.1)(1.25,2.7)(2.15,3.5)(1.25,4)(1.7,4.8)(3.85,.95)(4.4,1.6)(5,2.15)(3.3,1.35)(6.3,3.6)(1.6,2.2)(2.3,2)(3,2)(3.7,1.9)(1.7,4.2)(1.1,4.9)}{(4.4,2.4)(2.9,2.7)(3.5,2.6)(4.1,2.9)(4.7,3)(5.3,3)(2.9,3.3)(3.5,3.3)(4.1,3.5)(4.7,3.6)(5.3,3.6)(5.9,3.3)(2.5,4)(3.1,4)(3.7,4)(4.3,4.1)(4.9,4.2)(5.5,4.2)(6.1,4.1)(2.3,4.7)(2.9,4.7)(3.5,4.7)(4.1,4.7)(4.7,4.7)(5.3,4.7)(5.9,4.7)(6.5,4.4)(2.7,5.3)(3.3,5.3)(3.9,5.3)(4.5,5.3)(5.1,5.3)(5.7,5.3)(6.3,5.3)(6.8,5.2)(3.9,5.9)(4.5,5.9)(5.1,5.9)(5.7,5.9)(6.3,5.9)(6.9,6.1)(4.7,6.5)(5.3,6.4)(6.5,6.5)(7.1,6.7)}
% ---------- B: Liking
\scat{810}{2}{1}{(1.8,7.5)(2.7,7.4)(2.8,7)(0,6.75)(.45,6.75)(1.15,6.55)(7.25,7.5)(7.55,7.5)(6,6.75)(7,6)(7.15,3.55)(1.9,6)(3.2,5.95)(3.85,6)(4.65,5.55)(5.2,6.05)(5.3,5.55)(5.8,4.9)(5.45,4.6)(4.65,4.25)(5.9,4.35)(5.8,3.8)(5.15,3.55)(0,5.05)(1,5.4)(6.35,1.95)(6.2,1.55)(5.65,1.7)(5.95,.95)(5.1,.9)(4.9,1.3)(4.25,1.3)(3.95,.35)(4.15,.1)(6,2.6)(5.2,2.35)(3.5,2.2)(3.3,1.15)(2.6,.2)(4.4,3.4)(3.05,5.55)(3.75,4.75)(4.2,2.6)(4.8,2.9)(1.4,5.4)(2,5.4)(2.6,5.5)}{(0,.1)(.6,.1)(1.2,.1)(1.8,.1)(0,.7)(.6,.7)(1.2,.7)(1.8,.7)(2.4,.7)(3,.6)(0,1.3)(.6,1.3)(1.2,1.3)(1.8,1.3)(2.4,1.3)(0,1.9)(.6,1.9)(1.2,1.9)(1.8,1.9)(2.4,1.9)(3,1.9)(0,2.5)(.6,2.5)(1.2,2.5)(1.8,2.5)(2.4,2.5)(3,2.5)(3.6,2.7)(.1,3.1)(.7,3.1)(1.3,3.1)(1.9,3.1)(2.5,3.1)(3.1,3.1)(3.7,3.2)(.3,3.7)(.9,3.7)(1.5,3.7)(2.1,3.7)(2.7,3.7)(3.3,3.7)(3.9,3.7)(.4,4.3)(1,4.3)(1.6,4.3)(2.2,4.3)(2.8,4.3)(3.4,4.2)(.5,4.9)(1.1,4.8)(1.7,4.9)(2.3,4.9)(2.9,4.8)}
\scat{810}{3}{1}{(7.55,7.55)(7.15,6.75)(7.25,6.35)(7,5)(6.35,4.8)(4.6,7.15)(4.5,6.75)(3.5,6.6)(3.5,6)(3.85,6.6)(4.2,6.3)(.4,7.15)(0,6.55)(1.9,6.2)(.1,5.5)(1,5.75)(2.8,5.85)(5.75,5.95)(5.3,5.7)(5.55,5)(5.2,4.5)(5.7,3.8)(5.1,3.7)(4.25,4.35)(5.05,2.9)(5.75,2.7)(6,2.2)(5.65,1.95)(5.3,1.3)(4.75,.35)(6.2,.75)(5.95,.3)(3.6,.75)(3.55,0)(4.05,0)(4.4,2.6)(4.65,1.55)(3.5,5.3)(4.4,5.3)(4.05,3.3)(0,0)(.6,0)(1.2,.1)(1.8,0)(2.4,.2)(3,.1)(1.3,5.4)(1.9,5.4)(2.7,5.3)}{(0,.6)(.6,.6)(1.2,.7)(1.8,.7)(2.4,.8)(3,.8)(.1,1.2)(.7,1.2)(1.3,1.3)(1.9,1.3)(2.5,1.4)(3.1,1.4)(3.7,1.5)(0,1.8)(.6,1.8)(1.2,1.9)(1.8,1.9)(2.4,2)(3,2)(3.6,2)(.1,2.4)(.7,2.4)(1.3,2.5)(1.9,2.5)(2.5,2.6)(3.1,2.6)(3.7,2.7)(0,3)(.6,3)(1.2,3.1)(1.8,3.1)(2.4,3.2)(3,3.2)(3.5,3.5)(.1,3.6)(.7,3.6)(1.3,3.7)(1.9,3.7)(2.5,3.8)(3.1,3.8)(3.8,4)(.1,4.2)(.7,4.2)(1.3,4.3)(1.9,4.3)(2.5,4.4)(3.1,4.4)(.2,4.8)(.8,4.8)(1.4,4.9)(2,4.9)(2.6,5)(3.2,5)}
\scat{810}{3}{2}{(7.55,7.55)(7.55,6.35)(6.75,6.55)(6.9,5.35)(7.35,5.25)(5.5,6.7)(5.95,6.2)(4.75,6.2)(5.3,5.7)(6.05,5)(6.05,4.25)(3.35,7.15)(3.75,6.55)(2.85,6.4)(2.1,7.15)(2,6.6)(.2,5.5)(1.25,5.55)(2.25,5.75)(3.5,5.8)(4.3,5.55)(.1,3.35)(.2,2.35)(0,1.4)(.05,.9)(.05,.1)(6.55,2.9)(6.75,2.1)(6.75,1.05)(7.55,.4)(5.9,2.75)(5.55,2.35)(5.9,1.85)(5.3,1.55)(5.5,1.15)(5.4,.6)(4.65,1.3)(3.75,.75)(3.05,.1)(3.5,.35)(4.05,1.7)(5,3.95)(4.4,2.9)(.55,4.5)(.6,.3)(1.2,.2)(1.8,.2)(2.4,.3)}{(.5,.9)(1.1,.9)(1.7,.9)(2.3,.9)(2.9,.8)(.4,1.5)(1,1.5)(1.6,1.5)(2.2,1.5)(2.8,1.5)(3.4,1.4)(.5,2.1)(1.1,2.1)(1.7,2.1)(2.3,2.1)(2.9,2.1)(3.5,2.1)(.6,2.7)(1.2,2.7)(1.8,2.7)(2.4,2.7)(3,2.7)(3.6,2.7)(.7,3.3)(1.3,3.3)(1.9,3.3)(2.5,3.3)(3.1,3.3)(3.7,3.3)(4.2,3.5)(.9,3.9)(1.5,3.9)(2.1,3.9)(2.7,3.9)(3.3,3.9)(3.9,3.9)(4.5,3.7)(1.1,4.5)(1.7,4.5)(2.3,4.5)(2.9,4.5)(3.5,4.5)(4.1,4.5)(4.7,4.6)(1.4,5.1)(2,5.1)(2.6,5.1)(3.2,5.1)(3.8,5.1)(4.4,5.1)(5,5.1)}
\scat{810}{4}{1}{(3.9,7.55)(7.55,7.55)(6.35,7.25)(7.25,6.9)(0,6.9)(.4,6.35)(2.5,6.45)(3.5,6.1)(7,5.55)(7.15,4.5)(4.65,5.85)(5.15,6.35)(5.45,6.2)(5.9,5.6)(4.85,5.2)(6,4.8)(5.3,4.4)(5.3,3.7)(6.2,3.45)(5.7,3.25)(4.5,4.15)(1,5.9)(2.05,5.75)(5.2,2.65)(5.65,2.15)(6,1.75)(5.3,1.75)(4.65,1.2)(4.85,.55)(4.65,.4)(4.1,0)(2.5,0)(0,0)(1.7,.15)(.55,0)(3.5,1.35)(4.2,2.95)(3.3,5.35)(3.4,.2)(4.2,2)(.9,5.3)(1.5,5.3)(2.1,5.4)(2.7,5.4)(1.6,5.9)(4.2,3.7)}{(0,.5)(.6,.4)(1.2,.5)(1.8,.6)(2.4,.6)(3,.7)(0,1.1)(.6,1.1)(1.2,1.1)(1.8,1.2)(2.4,1.2)(3,1.3)(0,1.7)(.6,1.7)(1.2,1.7)(1.8,1.8)(2.4,1.8)(3,1.9)(3.6,2)(0,2.3)(.6,2.3)(1.2,2.3)(1.8,2.4)(2.4,2.4)(3,2.5)(3.6,2.6)(0,2.9)(.6,2.9)(1.2,2.9)(1.8,3)(2.4,3)(3,3.1)(3.6,3.2)(0,3.5)(.6,3.5)(1.2,3.5)(1.8,3.6)(2.4,3.6)(3,3.7)(3.6,3.8)(.1,4.1)(.7,4.1)(1.3,4.1)(1.9,4.2)(2.5,4.2)(3.1,4.3)(3.7,4.4)(.2,4.7)(.8,4.7)(1.4,4.7)(2,4.8)(2.6,4.8)(3.2,4.8)(3.9,5)}
\scat{810}{4}{2}{(4,7.55)(1.95,7.25)(5,6.9)(7.55,7.55)(7.55,6.9)(6.75,5.85)(7.35,4.5)(1.25,6.4)(2.1,6.4)(2.7,6.25)(3.35,6.2)(3.85,6)(4.95,5.85)(5.95,5.55)(5.4,5.05)(5.95,4.55)(4.55,5.45)(.8,5.55)(0,3.85)(.35,3.85)(.05,2.95)(0,1.65)(.05,.05)(.9,.05)(1.6,.05)(2.95,.05)(3.65,.65)(4.85,.4)(5.75,.4)(6.75,0)(7.55,.8)(7,1.15)(6.7,1.75)(6.05,1.15)(5.45,1.2)(5.7,1.85)(5,1.35)(5.1,2.5)(5.7,4)(4.45,2.95)(4.55,3.7)(4.5,1.7)(5.1,4.2)(1.5,5.4)(2.1,5.4)(2.7,5.4)(3.3,5.4)(3.9,5.4)}{(.1,.6)(.7,.6)(1.3,.6)(1.9,.6)(2.5,.6)(3.1,.6)(.4,1.2)(1,1.2)(1.6,1.2)(2.2,1.2)(2.8,1.2)(3.4,1.2)(4,1.2)(.4,1.8)(1,1.8)(1.6,1.8)(2.2,1.8)(2.8,1.8)(3.4,1.8)(4,1.8)(.3,2.4)(.9,2.4)(1.5,2.4)(2.1,2.4)(2.7,2.4)(3.3,2.4)(3.9,2.4)(.7,3)(1.3,3)(1.9,3)(2.5,3)(3.1,3)(3.7,3)(.9,3.6)(1.5,3.6)(2.1,3.6)(2.7,3.6)(3.3,3.6)(3.9,3.6)(.9,4.2)(1.5,4.2)(2.1,4.2)(2.7,4.2)(3.3,4.2)(3.9,4.2)(4.5,4.3)(1.1,4.8)(1.7,4.8)(2.3,4.8)(2.9,4.8)(3.5,4.8)(4.1,4.8)(4.9,4.8)}
\scat{810}{4}{3}{(3.65,7.55)(4.8,7.25)(4.4,6.9)(7.5,7.55)(6.35,6.9)(7.1,6.25)(6.45,6.1)(6.6,5.3)(2.8,6.45)(3.65,6.4)(4.3,5.85)(5,5.75)(5.75,6.1)(5.75,5.75)(6.65,4.4)(6.35,4.5)(6,3.75)(6.2,1.8)(6.5,0)(5.75,2.45)(5.3,1.2)(4.75,.25)(2.85,0)(2.05,.05)(1.5,.25)(0,0)(0,1.75)(0,.8)(.3,5.45)(0,5.05)(1.15,6.25)(1.15,5.85)(.6,4.75)(.4,3.75)(2.2,6)(5.3,4.9)(3.95,.8)(.5,.3)(1,.6)(5.7,4.4)(1.6,5.5)(2.2,5.5)(3,5.5)(3.7,5.5)}{(2.2,.7)(2.8,.7)(3.4,.6)(4.4,.7)(.3,1.2)(.9,1.2)(1.5,1.2)(2.1,1.3)(2.7,1.3)(3.3,1.3)(3.9,1.4)(4.5,1.3)(.5,1.8)(1.1,1.8)(1.7,1.9)(2.3,1.9)(2.9,1.9)(3.5,1.9)(4.1,1.9)(4.7,1.9)(.6,2.4)(1.2,2.5)(1.8,2.5)(2.4,2.5)(3,2.5)(3.6,2.5)(4.2,2.5)(4.8,2.5)(.6,3)(1.2,3.1)(1.8,3.1)(2.4,3.1)(3,3.1)(3.6,3.1)(4.2,3.1)(4.8,3.1)(5.4,3.3)(1,3.7)(1.6,3.7)(2.2,3.7)(2.8,3.7)(3.4,3.7)(4,3.7)(4.6,3.7)(1.2,4.3)(1.8,4.3)(2.4,4.3)(3,4.3)(3.6,4.3)(4.2,4.3)(4.8,4.3)(1,4.9)(1.6,4.9)(2.2,4.9)(2.8,4.9)(3.4,4.9)(4,4.9)(4.6,4.9)}
\scat{810}{5}{1}{(1.8,7.55)(3.5,7.1)(3.95,7.5)(2,6.35)(2.6,6.55)(.5,6.2)(1,6)(0,5.5)(4.55,6.8)(5.35,6.65)(6.1,6.75)(7.55,6.75)(4.2,6)(5,6.15)(5,5.5)(5.55,5.35)(5.95,4.85)(6.2,4.3)(7.15,4.25)(7.25,3.45)(6.35,3.55)(5.6,3.45)(5.25,3.3)(5.95,2.75)(5.25,1.9)(6,1.4)(5.45,1)(4.9,4.15)(4.2,3.35)(4.45,2.4)(3.5,1.1)(4.2,1.1)(4.9,0)(5.85,.1)(5.25,0)(7.05,0)(2.5,0)(3.05,.25)(3.75,.3)(3.3,5.9)(3.85,5.1)(4.5,3)(4.3,4.4)(4.2,5.4)(2.7,5.9)(.7,5.4)(1.3,5.4)(1.9,5.4)(2.5,5.4)(3.1,5.4)}{(0,0)(.6,0)(1.2,0)(1.8,0)(0,.6)(.6,.6)(1.2,.6)(1.8,.6)(2.4,.6)(0,1.2)(.6,1.2)(1.2,1.2)(1.8,1.2)(2.4,1.2)(3,1.2)(0,1.8)(.6,1.8)(1.2,1.8)(1.8,1.8)(2.4,1.8)(3,1.8)(3.6,1.8)(0,2.4)(.6,2.4)(1.2,2.4)(1.8,2.4)(2.4,2.4)(3,2.4)(3.6,2.5)(.1,3.1)(.7,3)(1.3,3)(1.9,3)(2.5,3)(3.1,3)(3.7,3)(.1,3.7)(.7,3.6)(1.3,3.6)(1.9,3.6)(2.5,3.6)(3.1,3.6)(3.7,3.8)(.1,4.3)(.7,4.2)(1.3,4.2)(1.9,4.2)(2.5,4.2)(3.1,4.2)(.2,4.9)(.8,4.8)(1.4,4.8)(2,4.8)(2.6,4.8)(3.2,4.8)}
\scat{810}{5}{2}{(3.7,7.55)(4.15,7.5)(2.8,6.65)(2.2,6.35)(.45,6.1)(.45,5.9)(3.7,6.3)(4.25,6.65)(4.8,7.1)(5.55,6.9)(6.8,6.75)(7.6,7.55)(7.6,6.75)(.95,5.6)(1.35,5.9)(5.6,6)(6.15,5.35)(6.15,4.7)(6.6,4.75)(6,4.15)(6.8,3.8)(7.45,4)(7.6,3.45)(5.25,4.05)(5,3.3)(6,2.4)(5.65,2.3)(4.6,2.4)(4.8,1.35)(5.5,.8)(5.65,.1)(6.1,0)(6.8,0)(7,.8)(4.8,.6)(4.15,0)(.4,4.55)(.05,2)(.05,0)(.95,0)(2.3,0)(4.15,1.35)(4.8,5.35)(4.6,4.2)(4.3,3.6)(3.8,5.3)(1.9,5.7)(3.1,5.7)}{(.3,.4)(.9,.4)(1.5,.4)(2.1,.6)(2.7,.4)(3.3,.4)(.1,1)(.7,1)(1.3,1)(1.9,1)(2.5,1)(3.1,1)(3.7,1)(.1,1.6)(.7,1.6)(1.3,1.6)(1.9,1.6)(2.5,1.6)(3.1,1.6)(.5,2.2)(1.1,2.2)(1.7,2.2)(2.3,2.2)(2.9,2.2)(3.5,2.2)(4.1,2.2)(.4,2.8)(1,2.8)(1.6,2.8)(2.2,2.8)(2.8,2.8)(3.4,2.8)(4,2.8)(.7,3.4)(1.3,3.4)(1.9,3.4)(2.5,3.4)(3.1,3.4)(3.7,3.4)(.9,4)(1.5,4)(2.1,4)(2.7,4)(3.3,4)(3.9,4)(1.2,4.6)(1.8,4.6)(2.4,4.6)(3,4.6)(3.6,4.6)(4.2,4.7)(1.4,5.2)(2,5.2)(2.6,5.2)(3.2,5.2)}
\scat{810}{5}{3}{(.4,7.55)(3.65,7.5)(3.85,7.55)(2.1,6.75)(4.65,6.55)(6,7.1)(6.75,6.9)(7.55,6.75)(7.1,6)(5.5,6.65)(6.2,6)(5.65,5.6)(4.05,6.15)(3.3,5.9)(.6,5.6)(.25,5.2)(.15,4.55)(1.8,5.75)(2.6,5.75)(5.65,4.95)(6.2,4.15)(6.7,4.3)(6.35,3.5)(6.45,2.65)(6.4,2)(5.65,2.35)(7.1,1.2)(6.5,0)(4.95,0)(4.05,0)(5.5,1.35)(0,2.15)(0,0)(.9,0)(1.7,0)(3.25,.1)(5.05,3.75)(5.05,5.1)(.2,.5)(.8,.6)(1.4,.6)(5.1,2.9)(3.1,5.3)(3.9,5.3)(4.6,5.5)}{(2,.6)(2.6,.5)(3.2,.7)(3.8,.6)(4.4,.5)(0,1.1)(.6,1.2)(1.2,1.2)(1.8,1.2)(2.4,1.2)(3,1.2)(3.6,1.2)(4.2,1.2)(4.8,1.1)(.2,1.8)(.8,1.8)(1.4,1.8)(2,1.8)(2.6,1.8)(3.2,1.8)(3.8,1.8)(4.4,1.8)(5,1.8)(.5,2.4)(1.1,2.4)(1.7,2.4)(2.3,2.4)(2.9,2.4)(3.5,2.4)(4.1,2.4)(4.7,2.4)(.9,3)(1.5,3)(2.1,3)(2.7,3)(3.3,3)(3.9,3)(4.5,3)(1.2,3.6)(1.8,3.6)(2.4,3.6)(3,3.6)(3.6,3.6)(4.2,3.6)(.9,4.2)(1.5,4.2)(2.1,4.2)(2.7,4.2)(3.3,4.2)(3.9,4.2)(4.5,4.2)(.7,4.8)(1.3,4.8)(1.9,4.8)(2.5,4.8)(3.1,4.8)(3.7,4.8)(4.3,4.8)}
\scat{810}{5}{4}{(.85,7.55)(3.5,7.55)(7.5,7.5)(7.5,6.75)(1.7,6.75)(2.7,6.65)(3.85,6.55)(4.4,7.1)(1.85,6.15)(2.4,6.2)(.45,5.6)(.25,5.15)(4.65,6.3)(5.75,6.35)(6.1,6.65)(6.3,6)(4.05,5.75)(5.6,5.6)(6.8,5.15)(5.9,4)(6.8,3.5)(7.25,3.55)(5.7,2.95)(6.4,2.15)(6.05,1.25)(6.15,1)(5.5,0)(4.7,.1)(5.4,.55)(3.6,0)(0,0)(0,1.75)(.25,3.9)(.5,3.75)(4.95,1.35)(4.5,2.15)(4.95,4.3)(3.4,5.1)(.5,.3)(1.1,.1)(1.7,.2)(2.3,.3)(2.9,.3)(5,2.6)(5.2,3.3)(4.4,3.2)(4.3,3.7)(1.1,3.7)(1,3.1)(1,4.4)(.6,4.8)(1.2,4.9)(1.9,5)(2.5,4.9)(3,4.9)(4,4.9)(4.6,4.6)(4.5,5.2)(1.5,5.6)(2.9,5.6)(3.7,5.6)(5,5.4)(2.6,4.2)(3.4,4.3)(4,4.3)(1.6,4.4)(3.1,3.7)(3.7,3.7)(1.7,3.8)}{(.2,.8)(.8,.8)(1.4,.8)(2,.8)(2.6,.8)(3.2,.8)(3.8,.8)(4.4,.8)(.2,1.4)(.8,1.4)(1.4,1.4)(2,1.4)(2.6,1.4)(3.2,1.4)(3.8,1.4)(.3,2)(.9,2)(1.5,2)(2.1,2)(2.7,2)(3.3,2)(3.9,2)(.2,2.6)(.8,2.6)(1.4,2.6)(2,2.6)(2.6,2.6)(3.2,2.6)(3.8,2.6)(1.6,3.1)(2.2,3.1)(2.8,3.2)}
\scat{810}{6}{1}{(7.55,7.25)(.4,7)(1.05,7.3)(3.25,7.3)(4.55,7.2)(5.75,7.55)(6.05,7.2)(5.1,6.8)(4.2,6.3)(1.15,6.4)(5.8,6.65)(4.75,6.1)(5.35,6.1)(7.25,6)(6.35,5.7)(6.05,5.05)(6.05,5.6)(5,5.35)(5.55,5.2)(5.9,3.3)(7.15,2.7)(6.25,.4)(7.05,.2)(5.2,.1)(4.15,0)(4.9,.65)(5.9,1.35)(5.55,1.05)(5.1,1.6)(5.55,2)(4.9,2.8)(4.4,2.55)(4.4,.95)(3.85,1.05)(5.1,3.75)(4.65,4)(4.2,4.8)(3.5,5.85)(2.5,6.1)(2,0)(2.5,0)(3.05,.25)(3.6,1.6)(4.2,3.4)(.5,5.8)(1.6,5.8)(2.8,5.6)}{(0,0)(.6,0)(1.2,0)(0,.6)(.6,.6)(1.2,.6)(1.8,.6)(2.4,.6)(3,.8)(0,1.2)(.6,1.2)(1.2,1.2)(1.8,1.2)(2.4,1.2)(3,1.4)(0,1.8)(.6,1.8)(1.2,1.8)(1.8,1.8)(2.4,1.8)(3,2)(0,2.4)(.6,2.4)(1.2,2.4)(1.8,2.4)(2.4,2.4)(3,2.6)(3.6,2.6)(0,3)(.6,3)(1.2,3)(1.8,3)(2.4,3)(3,3.2)(3.6,3.2)(0,3.6)(.6,3.6)(1.2,3.6)(1.8,3.6)(2.4,3.6)(3,3.8)(3.6,3.8)(0,4.2)(.6,4.2)(1.2,4.2)(1.8,4.2)(2.4,4.2)(3,4.4)(3.6,4.4)(0,4.8)(.6,4.8)(1.2,4.8)(1.8,4.8)(2.4,4.8)(3,5)(3.6,5)(0,5.4)(1,5.4)(2.2,5.4)(3.2,5.4)}
\scat{810}{6}{2}{(3.85,7.5)(4.6,7.3)(5.6,7.3)(6.8,7.2)(7.6,7.2)(7.6,6)(1.35,6.8)(2.15,7)(2.9,6.4)(.65,5.85)(1.3,6)(4.95,6.4)(5.25,6.4)(5.8,6)(6.6,5.45)(6.05,5.05)(5.6,4.8)(5.15,5.35)(6.75,4.1)(7.6,3)(7.4,2.7)(7,2.5)(5.7,2.8)(6.05,1.6)(6.05,.15)(6.8,0)(5.5,1.35)(5.5,.65)(5.05,.25)(4.85,.65)(4.15,.8)(3.05,.05)(.05,5.05)(.15,3.85)(.4,3.2)(.05,1.6)(.05,0)(.7,0)(5.15,3.2)(4.35,3.75)(4.5,2)(4.9,1.6)(4.9,2.4)(4.6,4.5)(4.4,5)(1.6,5.4)(2.2,5.4)(2.8,5.6)(3.4,5.4)(4,5.6)}{(.4,.6)(1,.6)(1.6,.5)(2.2,.5)(2.8,.6)(3.4,.6)(.2,1.1)(.8,1.2)(1.4,1.2)(2,1.2)(2.6,1.2)(3.2,1.2)(3.8,1.3)(.6,1.8)(1.2,1.8)(1.8,1.8)(2.4,1.8)(3,1.8)(3.6,1.8)(4.2,1.5)(.1,2.4)(.7,2.4)(1.3,2.4)(1.9,2.4)(2.5,2.4)(3.1,2.4)(3.7,2.4)(4.3,2.6)(1,3)(1.6,3)(2.2,3)(2.8,3)(3.4,3)(4,3)(.9,3.6)(1.5,3.6)(2.1,3.6)(2.7,3.6)(3.3,3.6)(3.9,3.6)(.9,4.2)(1.5,4.2)(2.1,4.2)(2.7,4.2)(3.3,4.2)(3.9,4.2)(.7,4.8)(1.3,4.8)(1.9,4.8)(2.5,4.8)(3.1,4.8)(3.7,4.8)}
\scat{810}{6}{3}{(2.1,7.25)(3.85,7.55)(3.65,6.85)(5.1,7.3)(5.7,7.3)(6.75,7.25)(7.15,7)(7.55,7.25)(1.2,6.45)(1.8,6.15)(.6,5.7)(.2,5.3)(2.5,5.85)(3.85,5.85)(4.65,6.25)(5.75,6.15)(6.2,6.15)(7.15,4.6)(6.6,4)(6.7,2.7)(6.3,2.35)(6.2,1.65)(6.4,.75)(6.5,0)(4.95,.2)(5.6,1.05)(.15,2.65)(0,1.3)(0,0)(.9,0)(1.7,0)(3.25,.15)(4.35,.25)(5.5,1.85)(5.75,3.2)(5.75,4.55)(4.65,3.85)(.45,4)(.4,.5)(1.2,.5)(3.8,.5)(5.2,2.5)(5.2,3.7)(5,4.4)(5.2,5.1)(1.2,5.5)(2,5.5)(3,5.5)(4.6,5.6)(5.2,5.7)(.9,3.5)}{(1.8,.5)(2.4,.5)(3,.7)(.4,1.1)(1,1.1)(1.6,1.1)(2.2,1.1)(2.8,1.3)(3.4,1.3)(4,1.1)(4.6,1)(.7,1.7)(1.3,1.7)(1.9,1.7)(2.5,1.7)(3.1,1.9)(3.7,1.9)(4.3,1.7)(4.9,1.7)(1,2.3)(1.6,2.3)(2.2,2.3)(2.8,2.5)(3.4,2.5)(4,2.5)(4.6,2.3)(1.4,2.9)(2,2.9)(2.6,3.1)(3.2,3.1)(3.8,3.1)(4.4,3.1)(5,3.1)(1.5,3.5)(2.1,3.7)(2.7,3.7)(3.3,3.7)(3.9,3.7)(1.1,4.2)(1.7,4.2)(2.3,4.3)(2.9,4.3)(3.5,4.3)(4.1,4.3)(.8,4.9)(1.4,4.8)(2,4.9)(2.6,4.9)(3.2,4.9)(3.8,5)(4.4,4.9)}
\scat{810}{6}{4}{(1.7,7.25)(4.1,7.25)(4.7,7.55)(5.1,7.35)(5.5,7.3)(7.5,7.25)(6.3,7)(6.2,6.5)(5,6.6)(6.8,6.1)(7.25,5.7)(.45,6.15)(1.85,6.25)(2.2,5.85)(.15,4.85)(.6,5.3)(6.45,4.65)(7.5,1.85)(6.8,.25)(6,.8)(5.5,.15)(0,.05)(.95,0)(1.7,0)(2.45,0)(4.3,.25)(.1,2.65)(0,.8)(5.7,2)(5.7,2.9)(5.9,4.25)(5.45,5.85)(4.1,6.1)(5.45,1.05)(.5,.6)(1.3,.5)(5,1.6)(.1,1.7)(5.2,2.6)(5.3,3.6)(5.6,4.9)(1.3,5.4)(2.7,5.4)(3.5,5.5)(4.2,5.5)(4.8,5.5)}{(2,.5)(2.8,.5)(3.4,.4)(3.8,.7)(.4,1.3)(1,1.1)(1.6,1.1)(2.2,1.1)(2.8,1.2)(3.4,1.1)(4,1.2)(4.6,1)(.7,1.8)(1.3,1.8)(1.9,1.7)(2.5,1.8)(3.1,1.7)(3.7,1.9)(4.4,1.7)(.6,2.4)(1.2,2.4)(1.8,2.3)(2.4,2.4)(3,2.3)(3.6,2.5)(4.2,2.5)(4.8,2.3)(.7,3)(1.3,3)(1.9,3)(2.5,3)(3.1,3)(3.7,3.1)(4.3,3.1)(4.9,3.1)(.5,3.6)(1.1,3.6)(1.7,3.6)(2.3,3.6)(2.9,3.6)(3.5,3.7)(4.1,3.7)(4.7,3.7)(1,4.2)(1.6,4.2)(2.2,4.2)(2.8,4.2)(3.4,4.3)(4,4.3)(4.6,4.3)(5.2,4.3)(.8,4.8)(1.4,4.8)(2,4.8)(2.6,4.8)(3.2,4.9)(3.8,4.9)(4.4,4.9)(5,4.9)}
\scat{810}{6}{5}{(.1,7.55)(5.75,7.35)(6,7.1)(6.75,7.25)(7.5,6)(7,6)(6.55,6.15)(4.9,6.4)(5.65,6.15)(1.05,6.4)(1.3,6.15)(.75,5.75)(.15,5.5)(2.5,5.9)(3.4,6.1)(3.95,6.1)(6.2,5.5)(6.2,4.55)(7.5,3.05)(7.4,1.9)(6.6,2)(5.8,3.1)(6.2,1.1)(5.65,.95)(5.1,.3)(5.65,.1)(4.4,.5)(4.2,.35)(3.4,.55)(3.3,1.25)(5.3,2.3)(4.85,1.6)(0,0)(0,2.2)(.05,4.3)(0,3.75)(.7,4.55)(1.6,4.55)(1.95,5.35)(4.3,5.35)(5.2,5.6)(3.6,1.9)(.6,5)(.3,5)(1,5.2)(3,5.5)(5,2.8)(4.4,2.5)(3,1.6)(4.1,3.1)(3.9,3.6)(4.5,3.5)(5.1,3.5)(4.6,4)(5.2,4.1)(4.6,4.6)(5.2,4.7)(5.7,4.6)(4.9,5.1)(5.5,5.1)}{(.5,.2)(1.1,.2)(1.7,.2)(2.3,.3)(.2,.8)(.8,.8)(1.4,.8)(2,.8)(2.6,.8)(0,1.4)(.6,1.4)(1.2,1.4)(1.8,1.4)(2.4,1.4)(.3,2)(.9,2)(1.5,2)(2.1,2)(2.7,2)(.5,2.6)(1.1,2.6)(1.7,2.6)(2.3,2.6)(2.9,2.6)(3.5,2.6)(1.5,3.2)(2.1,3.2)(2.7,3.2)(3.3,3.2)(1.5,3.8)(2.1,3.8)(2.7,3.8)(3.3,3.8)(2.2,4.4)(2.8,4.4)(3.4,4.4)(4,4.4)(2.5,5)(3.1,5)(3.7,5)(4.3,5)}
\end{tikzpicture}
\end{document}
